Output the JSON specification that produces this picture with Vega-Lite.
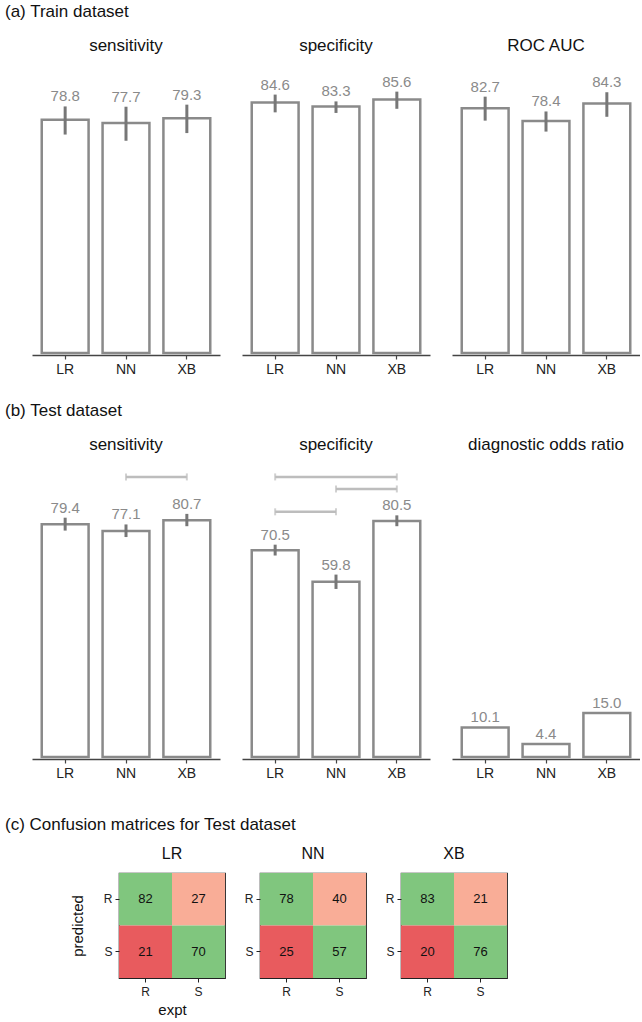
{
  "$schema": "https://vega.github.io/schema/vega-lite/v6.json",
  "padding": {"left": 5, "top": 3, "right": 0, "bottom": 0},
  "config": {
    "font": "Liberation Sans",
    "view": {"stroke": null},
    "axis": {"grid": false},
    "title": {"fontWeight": "normal", "color": "#111"}
  },
  "datasets": {
    "panels": [
      {"set": "Train", "metric": "sensitivity", "model": "LR", "value": 78.8, "lo": 73.8, "hi": 83.3},
      {"set": "Train", "metric": "sensitivity", "model": "NN", "value": 77.7, "lo": 71.7, "hi": 83.2},
      {"set": "Train", "metric": "sensitivity", "model": "XB", "value": 79.3, "lo": 74.3, "hi": 83.9},
      {"set": "Train", "metric": "specificity", "model": "LR", "value": 84.6, "lo": 81.3, "hi": 87.3},
      {"set": "Train", "metric": "specificity", "model": "NN", "value": 83.3, "lo": 81.1, "hi": 85.0},
      {"set": "Train", "metric": "specificity", "model": "XB", "value": 85.6, "lo": 82.5, "hi": 88.3},
      {"set": "Train", "metric": "ROC AUC", "model": "LR", "value": 82.7, "lo": 78.5, "hi": 86.6},
      {"set": "Train", "metric": "ROC AUC", "model": "NN", "value": 78.4, "lo": 74.8, "hi": 81.6},
      {"set": "Train", "metric": "ROC AUC", "model": "XB", "value": 84.3, "lo": 79.8, "hi": 88.1},
      {"set": "Test", "metric": "sensitivity", "model": "LR", "value": 79.4, "lo": 77.2, "hi": 81.6},
      {"set": "Test", "metric": "sensitivity", "model": "NN", "value": 77.1, "lo": 75.0, "hi": 79.3},
      {"set": "Test", "metric": "sensitivity", "model": "XB", "value": 80.7, "lo": 78.7, "hi": 82.9},
      {"set": "Test", "metric": "specificity", "model": "LR", "value": 70.5, "lo": 68.7, "hi": 72.4},
      {"set": "Test", "metric": "specificity", "model": "NN", "value": 59.8, "lo": 57.3, "hi": 62.2},
      {"set": "Test", "metric": "specificity", "model": "XB", "value": 80.5, "lo": 78.7, "hi": 82.4},
      {"set": "Test", "metric": "diagnostic odds ratio", "model": "LR", "value": 10.1, "lo": 10.1, "hi": 10.1},
      {"set": "Test", "metric": "diagnostic odds ratio", "model": "NN", "value": 4.4, "lo": 4.4, "hi": 4.4},
      {"set": "Test", "metric": "diagnostic odds ratio", "model": "XB", "value": 15.0, "lo": 15.0, "hi": 15.0},
      {"set": "Test", "metric": "sensitivity", "from": "NN", "to": "XB", "level": 95.5},
      {"set": "Test", "metric": "specificity", "from": "LR", "to": "XB", "level": 95.5},
      {"set": "Test", "metric": "specificity", "from": "NN", "to": "XB", "level": 91.4},
      {"set": "Test", "metric": "specificity", "from": "LR", "to": "NN", "level": 83.6}
    ],
    "cm": [
      {"model": "LR", "predicted": "R", "expt": "R", "count": 82, "outcome": "correct"},
      {"model": "LR", "predicted": "R", "expt": "S", "count": 27, "outcome": "false R"},
      {"model": "LR", "predicted": "S", "expt": "R", "count": 21, "outcome": "false S"},
      {"model": "LR", "predicted": "S", "expt": "S", "count": 70, "outcome": "correct"},
      {"model": "NN", "predicted": "R", "expt": "R", "count": 78, "outcome": "correct"},
      {"model": "NN", "predicted": "R", "expt": "S", "count": 40, "outcome": "false R"},
      {"model": "NN", "predicted": "S", "expt": "R", "count": 25, "outcome": "false S"},
      {"model": "NN", "predicted": "S", "expt": "S", "count": 57, "outcome": "correct"},
      {"model": "XB", "predicted": "R", "expt": "R", "count": 83, "outcome": "correct"},
      {"model": "XB", "predicted": "R", "expt": "S", "count": 21, "outcome": "false R"},
      {"model": "XB", "predicted": "S", "expt": "R", "count": 20, "outcome": "false S"},
      {"model": "XB", "predicted": "S", "expt": "S", "count": 76, "outcome": "correct"}
    ]
  },
  "vconcat": [
    {
      "spacing": 26,
      "vconcat": [
        {
          "title": {"text": "(a) Train dataset", "anchor": "start", "dx": -27, "fontSize": 17, "offset": 16},
          "data": {"name": "panels"},
          "transform": [{"filter": "datum.set === 'Train'"}],
          "facet": {"column": {"field": "metric", "type": "nominal", "sort": ["sensitivity", "specificity", "ROC AUC"],
            "header": {"title": null, "labelFontSize": 17, "labelPadding": 2, "labelColor": "#111"}}},
          "spacing": 22,
          "spec": {
            "width": 188, "height": 296,
            "layer": [
              {
                "transform": [{"filter": "isValid(datum.value)"}],
                "mark": {"type": "bar", "fill": "white", "stroke": "#8a8a8a", "strokeWidth": 2.5},
                "encoding": {
                  "x": {"field": "model", "type": "nominal", "scale": {"domain": ["LR", "NN", "XB"], "paddingInner": 0.23, "paddingOuter": 0.16},
                    "axis": {"title": null, "labelAngle": 0, "labelFontSize": 14, "labelColor": "#222", "domainColor": "#444", "domainWidth": 1.5, "tickColor": "#444", "tickSize": 4, "tickWidth": 1.2, "labelPadding": 3}},
                  "y": {"field": "value", "type": "quantitative", "scale": {"domain": [0, 100], "nice": false}, "axis": null}
                }
              },
              {
                "transform": [{"filter": "isValid(datum.value)"}],
                "mark": {"type": "rule", "color": "#777777", "strokeWidth": 3},
                "encoding": {
                  "x": {"field": "model", "type": "nominal"},
                  "y": {"field": "lo", "type": "quantitative"},
                  "y2": {"field": "hi"}
                }
              },
              {
                "transform": [{"filter": "isValid(datum.value)"}],
                "mark": {"type": "text", "color": "#8a8a8a", "fontSize": 15, "dy": -5, "baseline": "alphabetic"},
                "encoding": {
                  "x": {"field": "model", "type": "nominal"},
                  "y": {"field": "hi", "type": "quantitative"},
                  "text": {"field": "value", "type": "quantitative", "format": ".1f"}
                }
              }
            ]
          }
        },
        {
          "title": {"text": "(b) Test dataset", "anchor": "start", "dx": -27, "fontSize": 17, "offset": 16},
          "data": {"name": "panels"},
          "transform": [{"filter": "datum.set === 'Test'"}],
          "facet": {"column": {"field": "metric", "type": "nominal", "sort": ["sensitivity", "specificity", "diagnostic odds ratio"],
            "header": {"title": null, "labelFontSize": 17, "labelPadding": -2, "labelColor": "#111"}}},
          "spacing": 22,
          "spec": {
            "width": 188, "height": 305,
            "layer": [
              {
                "transform": [{"filter": "isValid(datum.value)"}],
                "mark": {"type": "bar", "fill": "white", "stroke": "#8a8a8a", "strokeWidth": 2.5},
                "encoding": {
                  "x": {"field": "model", "type": "nominal", "scale": {"domain": ["LR", "NN", "XB"], "paddingInner": 0.23, "paddingOuter": 0.16},
                    "axis": {"title": null, "labelAngle": 0, "labelFontSize": 14, "labelColor": "#222", "domainColor": "#444", "domainWidth": 1.5, "tickColor": "#444", "tickSize": 4, "tickWidth": 1.2, "labelPadding": 3}},
                  "y": {"field": "value", "type": "quantitative", "scale": {"domain": [0, 104], "nice": false}, "axis": null}
                }
              },
              {
                "transform": [{"filter": "isValid(datum.value)"}],
                "mark": {"type": "rule", "color": "#777777", "strokeWidth": 3},
                "encoding": {
                  "x": {"field": "model", "type": "nominal"},
                  "y": {"field": "lo", "type": "quantitative"},
                  "y2": {"field": "hi"}
                }
              },
              {
                "transform": [{"filter": "isValid(datum.value)"}],
                "mark": {"type": "text", "color": "#8a8a8a", "fontSize": 15, "dy": -5, "baseline": "alphabetic"},
                "encoding": {
                  "x": {"field": "model", "type": "nominal"},
                  "y": {"field": "hi", "type": "quantitative"},
                  "text": {"field": "value", "type": "quantitative", "format": ".1f"}
                }
              },
              {
                "transform": [{"filter": "isValid(datum.level)"}],
                "mark": {"type": "rule", "color": "#bdbdbd", "strokeWidth": 2.5},
                "encoding": {
                  "x": {"field": "from", "type": "nominal"},
                  "x2": {"field": "to"},
                  "y": {"field": "level", "type": "quantitative"}
                }
              },
              {
                "transform": [{"filter": "isValid(datum.level)"}, {"fold": ["from", "to"], "as": ["end", "pos"]}],
                "mark": {"type": "tick", "orient": "vertical", "color": "#bdbdbd", "size": 7, "thickness": 2},
                "encoding": {
                  "x": {"field": "pos", "type": "nominal"},
                  "y": {"field": "level", "type": "quantitative"}
                }
              }
            ]
          }
        }
      ]
    },
    {
      "title": {"text": "(c) Confusion matrices for Test dataset", "anchor": "start", "dx": -27, "fontSize": 17, "offset": 11},
      "spacing": 17,
      "hconcat": [
        {
          "width": 20, "height": 105,
          "data": {"values": []},
          "mark": "point"
        },
        {
          "title": {"text": "LR", "fontSize": 16, "offset": 11},
          "data": {"name": "cm"},
          "transform": [{"filter": "datum.model === 'LR'"}],
          "width": 106, "height": 105,
          "view": {"stroke": "#222", "strokeWidth": 1.2},
          "encoding": {
            "x": {"field": "expt", "type": "nominal", "scale": {"domain": ["R", "S"], "paddingInner": 0, "paddingOuter": 0},
              "axis": {"title": "expt", "labelAngle": 0, "labelFontSize": 12, "labelColor": "#222", "titleFontSize": 15, "titleFontWeight": "normal", "titleColor": "#111", "titlePadding": 5, "domain": false, "tickColor": "#222", "tickSize": 4, "labelPadding": 4}},
            "y": {"field": "predicted", "type": "nominal", "scale": {"domain": ["R", "S"], "paddingInner": 0, "paddingOuter": 0},
              "axis": {"title": "predicted", "labelAngle": 0, "labelFontSize": 12, "labelColor": "#222", "titleFontSize": 15, "titleFontWeight": "normal", "titleColor": "#111", "titlePadding": 18, "domain": false, "tickColor": "#222", "tickSize": 4, "labelPadding": 3}}
          },
          "layer": [
            {"mark": {"type": "rect"}, "encoding": {"color": {"field": "outcome", "type": "nominal", "scale": {"domain": ["correct", "false R", "false S"], "range": ["#80c67e", "#f9ad97", "#e85b5e"]}, "legend": null}}},
            {"mark": {"type": "text", "fontSize": 13, "color": "#111"}, "encoding": {"text": {"field": "count", "type": "quantitative"}}}
          ]
        },
        {
          "title": {"text": "NN", "fontSize": 16, "offset": 11},
          "data": {"name": "cm"},
          "transform": [{"filter": "datum.model === 'NN'"}],
          "width": 106, "height": 105,
          "view": {"stroke": "#222", "strokeWidth": 1.2},
          "encoding": {
            "x": {"field": "expt", "type": "nominal", "scale": {"domain": ["R", "S"], "paddingInner": 0, "paddingOuter": 0},
              "axis": {"title": null, "labelAngle": 0, "labelFontSize": 12, "labelColor": "#222", "domain": false, "tickColor": "#222", "tickSize": 4, "labelPadding": 4}},
            "y": {"field": "predicted", "type": "nominal", "scale": {"domain": ["R", "S"], "paddingInner": 0, "paddingOuter": 0},
              "axis": {"title": null, "labelAngle": 0, "labelFontSize": 12, "labelColor": "#222", "domain": false, "tickColor": "#222", "tickSize": 4, "labelPadding": 3}}
          },
          "layer": [
            {"mark": {"type": "rect"}, "encoding": {"color": {"field": "outcome", "type": "nominal", "scale": {"domain": ["correct", "false R", "false S"], "range": ["#80c67e", "#f9ad97", "#e85b5e"]}, "legend": null}}},
            {"mark": {"type": "text", "fontSize": 13, "color": "#111"}, "encoding": {"text": {"field": "count", "type": "quantitative"}}}
          ]
        },
        {
          "title": {"text": "XB", "fontSize": 16, "offset": 11},
          "data": {"name": "cm"},
          "transform": [{"filter": "datum.model === 'XB'"}],
          "width": 106, "height": 105,
          "view": {"stroke": "#222", "strokeWidth": 1.2},
          "encoding": {
            "x": {"field": "expt", "type": "nominal", "scale": {"domain": ["R", "S"], "paddingInner": 0, "paddingOuter": 0},
              "axis": {"title": null, "labelAngle": 0, "labelFontSize": 12, "labelColor": "#222", "domain": false, "tickColor": "#222", "tickSize": 4, "labelPadding": 4}},
            "y": {"field": "predicted", "type": "nominal", "scale": {"domain": ["R", "S"], "paddingInner": 0, "paddingOuter": 0},
              "axis": {"title": null, "labelAngle": 0, "labelFontSize": 12, "labelColor": "#222", "domain": false, "tickColor": "#222", "tickSize": 4, "labelPadding": 3}}
          },
          "layer": [
            {"mark": {"type": "rect"}, "encoding": {"color": {"field": "outcome", "type": "nominal", "scale": {"domain": ["correct", "false R", "false S"], "range": ["#80c67e", "#f9ad97", "#e85b5e"]}, "legend": null}}},
            {"mark": {"type": "text", "fontSize": 13, "color": "#111"}, "encoding": {"text": {"field": "count", "type": "quantitative"}}}
          ]
        }
      ]
    }
  ],
  "spacing": 36
}
